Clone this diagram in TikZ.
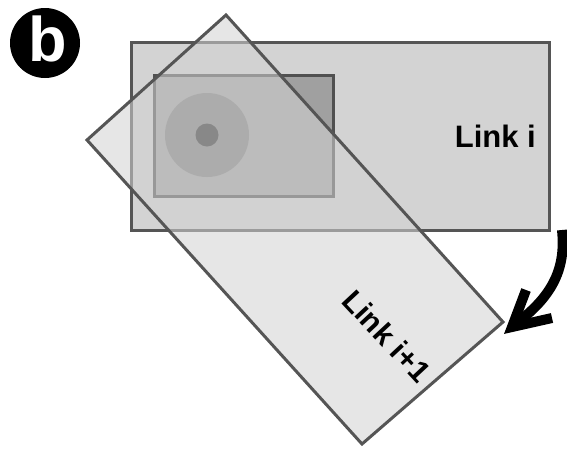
\documentclass[tikz,border=0pt]{standalone}
\usepackage{fontspec}
\setmainfont{Liberation Sans}
\definecolor{linkifill}{RGB}{211,211,211}
\definecolor{linkdraw}{RGB}{85,85,85}
\definecolor{blockdraw}{RGB}{80,80,80}
\definecolor{blockfill}{RGB}{160,160,160}
\definecolor{discfill}{RGB}{124,124,124}
\definecolor{dotfill}{RGB}{42,42,42}
\definecolor{linkjfill}{RGB}{210,210,210}
\begin{document}
\begin{tikzpicture}[x=1pt,y=-1pt,
  linkbox/.style={draw=linkdraw, line width=3pt},
  lbl/.style={font=\bfseries\fontsize{31}{31}\selectfont, inner sep=0pt}]
\useasboundingbox (0,0) rectangle (567,448);
% label b
\fill[black] (45,43) circle (35);
\node[inner sep=0pt, text=white, font=\bfseries\fontsize{63}{63}\selectfont] (lb) at (48,39) {b};
% Link i
\draw[linkbox, fill=linkifill] (131,42) rectangle (549,230);
\node[lbl, anchor=base east] (li) at (536,147) {Link i};
% inner block
\draw[draw=blockdraw, line width=3pt, fill=blockfill] (154,75) rectangle (333,196);
\fill[discfill] (207,135) circle (42);
\fill[dotfill] (207,135) circle (11.5);
% Link i+1
\coordinate (t) at (226,15);
\coordinate (r) at (503,322);
\coordinate (bo) at (362,444);
\coordinate (l) at (87,140);
\filldraw[linkbox, fill=linkjfill, fill opacity=0.56] (t) -- (r) -- (bo) -- (l) -- cycle;
\node[lbl, font=\bfseries\fontsize{30}{30}\selectfont, rotate=-47] (lj) at (387,336) {Link i+1};
% rotation arrow
\coordinate (as) at (562,230);
\coordinate (at) at (518,322);
\coordinate (b1) at (526,290);
\coordinate (b2) at (552,318);
\coordinate (tip) at (512,327);
\draw[line width=10pt] (as) .. controls (566,268) and (553,295) .. (at);
\draw[line width=10pt, miter limit=10] (b1) -- (tip) -- (b2);
\end{tikzpicture}
\end{document}
